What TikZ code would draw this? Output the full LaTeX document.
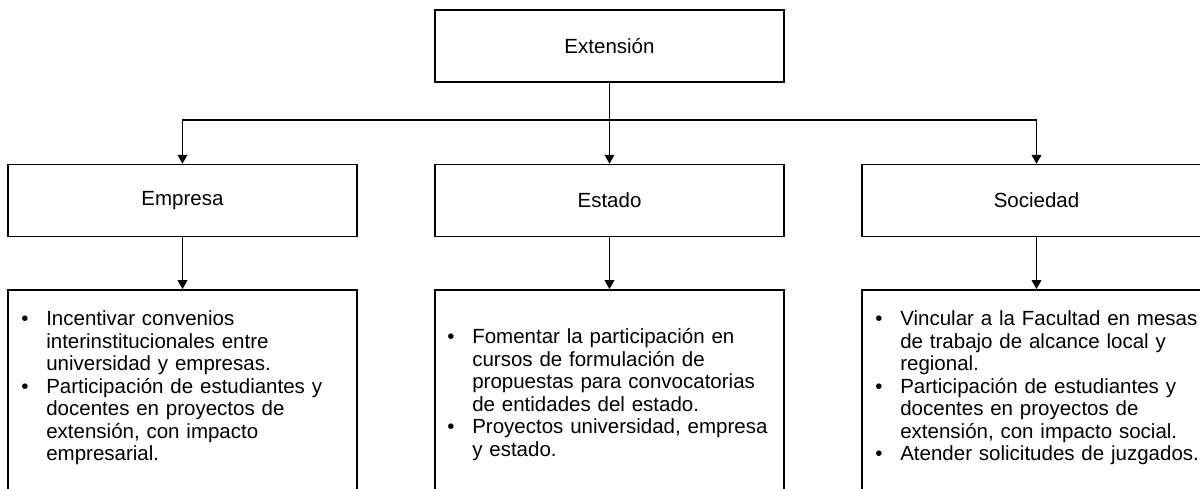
\documentclass[tikz,border=0pt]{standalone}
\usepackage{fontspec}
\setmainfont{Liberation Sans}
\usetikzlibrary{arrows.meta}
\newcommand{\vineta}{\noindent\hangindent=14.2pt\hangafter=1\makebox[14.2pt][l]{\textbullet}}
\tikzset{
  caja/.style={draw, line width=0.9pt, minimum width=6.98cm, minimum height=1.44cm,
    inner sep=0pt, font=\fontsize{11.67pt}{13.37pt}\selectfont},
  lista/.style={draw, line width=0.9pt, minimum width=6.98cm, minimum height=5cm,
    anchor=north, inner sep=0pt},
  texto/.style={anchor=base west, text width=6.7cm, align=left, inner sep=0pt,
    font=\fontsize{11.67pt}{12.8pt}\selectfont},
  flecha/.style={line width=0.7pt, -{Triangle[width=5.5pt,length=5pt]}}
}
\begin{document}
\begin{tikzpicture}[x=0.02cm,y=-0.02cm]
      \useasboundingbox (0,0) rectangle (1200,489);
      \node[caja] (ext) at (609.5,46) {Extensión};
      \node[caja] (emp) at (182.5,200.5) {Empresa};
      \node[caja] (est) at (609.5,200.5) {Estado};
      \node[caja] (soc) at (1036.5,200.5) {Sociedad};
      \node[lista] (empL) at (182.5,289) {};
      \node[lista] (estL) at (609.5,289) {};
      \node[lista] (socL) at (1036.5,289) {};
      \node[texto] (empT) at (21,326) {%
        \vineta Incentivar convenios\newline interinstitucionales entre\newline universidad y empresas.\par
        \vineta Participación de estudiantes y\newline docentes en proyectos de\newline extensión, con impacto\newline empresarial.\par};
      \node[texto] (estT) at (447,344) {%
        \vineta Fomentar la participación en\newline cursos de formulación de\newline propuestas para convocatorias\newline de entidades del estado.\par
        \vineta Proyectos universidad, empresa\newline y estado.\par};
      \node[texto] (socT) at (875,326) {%
        \vineta Vincular a la Facultad en mesas\newline de trabajo de alcance local y\newline regional.\par
        \vineta Participación de estudiantes y\newline docentes en proyectos de\newline extensión, con impacto social.\par
        \vineta Atender solicitudes de juzgados.\par};
      \coordinate (rama) at (609.5,120);
      \draw[line width=0.7pt] (ext) -- (rama);
      \begin{scope}[flecha]
        \draw (rama) -| (emp);
        \draw (rama) -- (est);
        \draw (rama) -| (soc);
        \draw (emp) -- (empL);
        \draw (est) -- (estL);
        \draw (soc) -- (socL);
      \end{scope}
    \end{tikzpicture}
\end{document}
